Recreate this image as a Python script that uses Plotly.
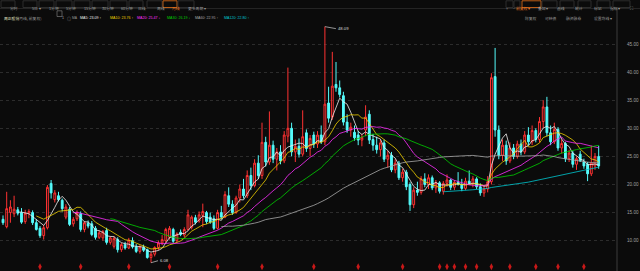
import plotly.graph_objects as go
import pandas as pd

# ---------------- data (monthly candles) ----------------
opens = [13.8, 12.5, 15.0, 14.8, 15.5, 15.0, 13.4, 14.9, 15.0, 13.2,
         12.2, 10.9, 12.3, 20.2, 17.3, 18.0, 17.2, 14.2, 15.6, 13.0,
         13.9, 14.8, 12.0, 13.1, 13.0, 12.2, 10.6, 10.5, 11.8, 9.7,
         9.0, 10.2, 8.4, 9.3, 8.7, 10.0, 8.9, 8.1, 8.8, 8.4,
         7.0, 7.6, 8.8, 9.6, 10.0, 10.6, 12.0, 10.0, 11.5, 11.0,
         12.0, 12.4, 14.1, 13.5, 14.5, 15.0, 14.2, 13.9, 12.2, 15.0,
         14.2, 18.0, 16.5, 15.0, 17.6, 19.2, 18.0, 21.6, 19.8, 23.8,
         21.6, 27.5, 24.0, 27.0, 24.5, 25.8, 24.2, 28.6, 30.0, 25.8,
         26.8, 25.4, 29.2, 26.4, 28.8, 27.2, 28.8, 27.6, 34.5, 32.0,
         37.8, 37.2, 35.8, 31.1, 29.7, 29.3, 28.8, 27.9, 29.7, 32.5,
         28.0, 27.0, 26.2, 27.4, 24.5, 25.2, 22.6, 23.8, 21.2, 22.2,
         20.0, 16.4, 19.0, 18.6, 21.0, 20.0, 21.2, 19.4, 20.3, 18.8,
         20.2, 20.8, 19.5, 20.4, 20.0, 19.3, 20.6, 20.2, 21.0, 19.6,
         18.5, 19.2, 20.5, 39.2, 29.7, 25.2, 27.0, 24.2, 26.5, 25.0,
         27.2, 25.8, 28.8, 27.6, 29.6, 28.0, 31.2, 33.8, 29.2, 27.6,
         29.8, 26.5, 27.3, 24.6, 25.6, 23.6, 25.4, 24.0, 23.6, 21.9,
         23.3, 25.0]
highs = [14.5, 18.7, 17.2, 18.0, 16.0, 15.8, 15.5, 15.6, 15.4, 13.8,
         12.6, 12.8, 19.9, 20.8, 19.0, 18.7, 17.5, 16.5, 16.0, 14.2,
         15.4, 15.2, 13.5, 13.6, 13.5, 12.6, 11.8, 11.9, 12.3, 10.8,
         10.8, 10.6, 9.6, 9.8, 10.5, 10.6, 9.4, 9.2, 9.3, 8.6,
         7.9, 9.0, 10.0, 11.0, 12.3, 12.6, 12.3, 11.5, 12.0, 12.4,
         15.5, 14.5, 14.6, 15.2, 16.6, 15.3, 15.0, 14.5, 15.5, 16.2,
         18.8, 19.5, 17.2, 18.0, 20.0, 21.0, 22.5, 23.0, 24.5, 25.2,
         31.0, 28.5, 33.0, 27.8, 26.5, 27.0, 29.5, 40.8, 31.0, 28.0,
         28.2, 33.2, 29.8, 28.8, 29.4, 29.5, 30.5, 48.09, 37.4, 43.6,
         41.8, 38.5, 36.5, 32.5, 31.0, 30.5, 29.5, 29.0, 34.1, 33.2,
         29.0, 28.5, 28.0, 28.0, 26.0, 25.8, 24.5, 24.2, 22.8, 22.6,
         20.4, 19.5, 20.5, 21.5, 22.0, 21.8, 21.6, 20.8, 20.6, 20.6,
         21.8, 21.0, 20.8, 22.2, 21.0, 21.2, 22.5, 21.5, 21.3, 20.2,
         19.8, 21.5, 39.8, 44.3, 30.5, 28.0, 27.8, 27.5, 27.2, 27.8,
         28.0, 29.5, 30.2, 30.5, 30.0, 32.0, 35.0, 35.6, 30.5, 31.0,
         30.2, 28.0, 27.6, 26.2, 26.0, 25.0, 26.0, 24.6, 24.0, 26.9,
         25.6, 26.9]
lows = [12.8, 12.2, 13.2, 14.2, 14.5, 13.0, 13.0, 14.0, 12.8, 11.8,
        10.5, 10.2, 12.0, 17.5, 16.8, 17.0, 15.2, 13.8, 12.6, 12.5,
        13.5, 11.6, 11.5, 12.2, 10.8, 10.2, 10.3, 10.0, 9.3, 9.3,
        8.6, 7.9, 8.0, 8.4, 8.5, 8.6, 7.8, 7.7, 8.0, 6.8,
        6.08, 7.2, 8.3, 9.2, 9.6, 10.2, 9.6, 9.7, 10.8, 10.6,
        11.8, 12.0, 12.9, 13.2, 12.4, 13.0, 13.0, 11.9, 12.0, 13.8,
        14.0, 16.0, 14.6, 14.8, 16.8, 17.5, 17.6, 19.0, 19.5, 21.0,
        21.0, 23.2, 23.5, 23.8, 22.5, 23.6, 23.8, 27.5, 25.0, 24.0,
        24.8, 25.0, 25.8, 25.0, 26.5, 26.5, 27.2, 27.0, 31.0, 31.5,
        36.5, 35.5, 30.5, 29.2, 28.5, 27.8, 27.0, 26.8, 28.6, 27.2,
        26.0, 25.5, 25.0, 24.0, 23.0, 22.2, 22.0, 20.8, 20.5, 19.0,
        15.3, 15.8, 18.0, 18.2, 19.5, 19.2, 19.0, 18.5, 18.4, 18.2,
        19.6, 19.0, 19.0, 19.8, 18.8, 19.0, 20.0, 19.5, 19.2, 18.0,
        17.8, 18.6, 20.0, 28.5, 24.5, 24.2, 23.5, 23.8, 24.5, 24.6,
        25.2, 25.4, 27.0, 27.0, 27.5, 27.5, 30.0, 28.6, 27.0, 27.2,
        26.0, 25.5, 24.0, 24.0, 23.0, 22.6, 24.0, 22.8, 20.6, 21.5,
        22.6, 22.8]
closes = [13.2, 15.7, 16.0, 15.6, 14.9, 13.3, 14.9, 15.2, 13.2, 12.0,
          10.9, 12.3, 19.5, 18.5, 18.5, 17.3, 15.7, 16.0, 12.9, 13.8,
          15.0, 12.0, 13.2, 12.6, 11.1, 10.6, 11.4, 11.6, 9.7, 10.5,
          10.4, 8.4, 9.3, 8.7, 10.1, 8.9, 8.1, 8.9, 8.3, 7.0,
          7.6, 8.8, 9.6, 10.2, 12.0, 12.2, 9.9, 11.2, 11.1, 12.0,
          14.6, 14.2, 13.3, 14.6, 15.2, 13.4, 13.3, 12.2, 15.0, 14.2,
          18.2, 16.5, 15.0, 17.6, 19.2, 18.0, 21.6, 19.8, 23.8, 21.6,
          27.5, 24.0, 27.0, 24.5, 25.8, 24.2, 28.8, 30.0, 25.8, 26.8,
          25.4, 28.5, 26.4, 28.2, 27.2, 28.8, 27.6, 34.3, 31.8, 37.5,
          37.2, 36.0, 31.1, 29.7, 30.2, 28.3, 27.9, 28.4, 32.0, 27.9,
          27.0, 26.2, 27.4, 24.5, 25.2, 22.6, 23.8, 21.2, 22.2, 19.6,
          16.4, 19.0, 18.6, 21.0, 20.0, 21.2, 19.4, 20.3, 18.8, 20.2,
          20.8, 19.5, 20.4, 20.0, 19.3, 20.6, 20.2, 21.0, 19.6, 18.5,
          19.2, 20.5, 39.0, 29.7, 25.2, 27.0, 24.2, 26.5, 25.0, 27.2,
          25.8, 28.8, 27.6, 29.6, 28.0, 31.2, 33.8, 29.2, 27.6, 29.8,
          26.5, 27.3, 24.6, 25.6, 23.6, 24.6, 24.2, 23.3, 21.9, 23.8,
          25.0, 23.3]

ma_periods = [5, 10, 20, 30, 60, 120]
ma_colors = ["#f0f0f0", "#f0d000", "#ff30ff", "#00d000", "#a8a8a8", "#00c8d0"]
ma_labels = ["MA5: 23.09", "MA10: 23.76", "MA20: 25.47", "MA30: 26.19", "MA60: 22.95", "MA120: 22.80"]
ma_arrows = ["↑", "↑", "↓", "↓", "↑", "↑"]

dividend_idx = [10, 21, 34, 45, 58, 70, 84, 96, 108, 118, 120, 122, 125, 128, 132, 137, 144, 150, 157]

price_ticks = [10, 15, 20, 25, 30, 35, 40, 45]
high_label = "48.09"
low_label = "6.08"

left_tabs = ["分时", "5日 ▾", "1分钟", "5分钟", "15分钟", "30分钟", "60分钟", "日线", "周线", "月线", "更多周期 ▾"]
right_tabs = ["+", "−", "前复权 ▾", "叠加 ▾", "画线", "统计", "标记", "指标 ▾"]
sub_tabs = ["除复权", "可转债", "融资融券", "设置均线 ▾"]

# ---------------- figure ----------------
W, H = 640, 271
PLOT_W = 617
BG = "#0b0b0b"
x = list(range(len(closes)))
s = pd.Series(closes)


def px_x(p):
    return p / PLOT_W


def px_y(p):
    return 1 - p / H


fig = go.Figure()

fig.add_trace(go.Candlestick(
    x=x, open=opens, high=highs, low=lows, close=closes,
    increasing=dict(line=dict(color="#ff3232", width=1), fillcolor="rgba(0,0,0,0)"),
    decreasing=dict(line=dict(color="#54fcfc", width=1), fillcolor="#54fcfc"),
    whiskerwidth=0, showlegend=False, hoverinfo="skip",
))

for p, c in zip(ma_periods, ma_colors):
    fig.add_trace(go.Scatter(x=x, y=s.rolling(p).mean(), mode="lines",
                             line=dict(color=c, width=0.8), showlegend=False,
                             hoverinfo="skip"))

fig.add_trace(go.Scatter(x=dividend_idx, y=[5.35] * len(dividend_idx), mode="markers",
                         marker=dict(symbol="diamond-tall", size=5, color="#c81818"),
                         showlegend=False, hoverinfo="skip"))

ppu = 5.62
y_top = 45 + 44 / ppu
y_bot = 45 - (H - 44) / ppu
x_left = -3 / 3.7
x_right = (PLOT_W - 3) / 3.7

fig.update_layout(
    width=W, height=H,
    margin=dict(l=0, r=W - PLOT_W, t=0, b=0),
    paper_bgcolor=BG, plot_bgcolor=BG,
    font=dict(family="Liberation Sans, Noto Sans CJK SC", color="#9a9a9a", size=4.5),
    xaxis=dict(range=[x_left, x_right], showgrid=False, zeroline=False, showticklabels=False,
               rangeslider=dict(visible=False), fixedrange=True),
    yaxis=dict(range=[y_bot, y_top], side="right", tickvals=price_ticks,
               ticktext=[f"{v:.2f}" for v in price_ticks],
               tickfont=dict(size=4.6, color="#a0a0a0", family="Liberation Sans"),
               showgrid=True, gridcolor="#2c2c2c", griddash="dot", gridwidth=1,
               zeroline=False, showline=False, ticks="", ticklabelstandoff=9),
)

shapes = []
shapes.append(dict(type="line", xref="paper", yref="paper", x0=1, x1=1, y0=0, y1=px_y(8.5),
                   line=dict(color="#3c3c3c", width=1)))
shapes.append(dict(type="line", xref="paper", yref="paper", x0=0, x1=W / PLOT_W, y0=px_y(8.5), y1=px_y(8.5),
                   line=dict(color="#242424", width=1)))

annotations = []
left_pos = [(1, 15), (23, 37), (39, 54), (56, 72), (74, 90), (92, 108), (110, 127), (129, 143), (147, 162), (163, 177), (178, 194)]
for t, (a, b) in zip(left_tabs, left_pos):
    active = t == "月线"
    col = "#e8731c" if active else "#9a9a9a"
    shapes.append(dict(type="rect", xref="paper", yref="paper", x0=px_x(a), x1=px_x(b),
                       y0=px_y(7.5), y1=px_y(0.8), line=dict(color=col if active else "#353535", width=0.8)))
    annotations.append(dict(x=px_x((a + b) / 2), y=px_y(4.2), xref="paper", yref="paper", text=t,
                            showarrow=False, font=dict(size=3.8, color=col, family="Noto Sans CJK SC")))

right_pos = [(506, 513), (514, 520), (522, 541), (542, 557), (560, 574), (578, 591), (597, 610), (613, 630)]
for t, (a, b) in zip(right_tabs, right_pos):
    active = t.startswith("前复权")
    col = "#e8731c" if active else "#9a9a9a"
    shapes.append(dict(type="rect", xref="paper", yref="paper", x0=px_x(a), x1=px_x(b),
                       y0=px_y(7.5), y1=px_y(0.8), line=dict(color=col if active else "#353535", width=0.8)))
    annotations.append(dict(x=px_x((a + b) / 2), y=px_y(4.2), xref="paper", yref="paper", text=t,
                            showarrow=False, font=dict(size=3.8, color=col, family="Noto Sans CJK SC")))
annotations.append(dict(x=px_x(635.5), y=px_y(4.2), xref="paper", yref="paper", text="⛶",
                        showarrow=False, font=dict(size=4.5, color="#9a9a9a")))

sub_x = [523, 543, 564, 592]
for t, a in zip(sub_tabs, sub_x):
    annotations.append(dict(x=px_x(a), y=px_y(13.6), xref="paper", yref="paper", text=t, xanchor="left",
                            showarrow=False, font=dict(size=3.8, color="#9a9a9a", family="Noto Sans CJK SC")))

annotations.append(dict(x=px_x(2), y=px_y(13.6), xref="paper", yref="paper", text="周正股份", xanchor="left",
                        showarrow=False, font=dict(size=3.8, color="#e8e8c8", family="Noto Sans CJK SC")))
annotations.append(dict(x=px_x(16), y=px_y(13.6), xref="paper", yref="paper", text="(月线, 前复权)", xanchor="left",
                        showarrow=False, font=dict(size=3.8, color="#9a9a9a", family="Noto Sans CJK SC")))
shapes.append(dict(type="rect", xref="paper", yref="paper", x0=px_x(57), x1=px_x(62), y0=px_y(16.5), y1=px_y(10.8),
                   line=dict(color="#8a8a8a", width=0.6)))
annotations.append(dict(x=px_x(59.5), y=px_y(13.6), xref="paper", yref="paper", text="1",
                        showarrow=False, font=dict(size=3.6, color="#b0b0b0")))
annotations.append(dict(x=px_x(65), y=px_y(13.6), xref="paper", yref="paper", text="◎",
                        showarrow=False, font=dict(size=4, color="#9a9a9a")))
annotations.append(dict(x=px_x(70), y=px_y(13.6), xref="paper", yref="paper", text="MA", xanchor="left",
                        showarrow=False, font=dict(size=3.4, color="#9a9a9a")))
leg_x = [78, 108, 135, 165, 193, 222]
for lab, arr, c, lx in zip(ma_labels, ma_arrows, ma_colors, leg_x):
    annotations.append(dict(x=px_x(lx), y=px_y(13.6), xref="paper", yref="paper",
                            text=f"{lab} {arr}", xanchor="left", showarrow=False,
                            font=dict(size=3.6, color=c, family="Liberation Sans")))

hi_i = highs.index(max(highs))
lo_i = lows.index(min(lows))
annotations.append(dict(x=hi_i, y=highs[hi_i], xref="x", yref="y", text=high_label, showarrow=True,
                        arrowhead=0, arrowwidth=0.7, arrowcolor="#d0d0d0", ax=11, ay=2,
                        xanchor="left", font=dict(size=4.2, color="#d8d8d8", family="Liberation Sans")))
annotations.append(dict(x=lo_i, y=lows[lo_i], xref="x", yref="y", text=low_label, showarrow=True,
                        arrowhead=0, arrowwidth=0.7, arrowcolor="#d0d0d0", ax=7, ay=-2,
                        xanchor="left", font=dict(size=4.2, color="#d8d8d8", family="Liberation Sans")))

fig.update_layout(shapes=shapes, annotations=annotations)
fig.write_html("out.html")
